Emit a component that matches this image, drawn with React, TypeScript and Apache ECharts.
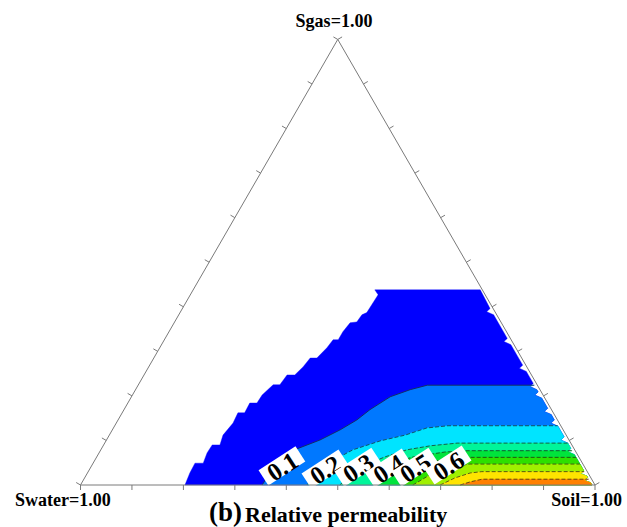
import React, { useEffect, useRef } from "react";
import * as echarts from "echarts";

// Ternary points are [Soil, Sgas]; Swater = 1 - Soil - Sgas
const vertices = [[0, 0], [1, 0], [0, 1]]; // Swater, Soil, Sgas corners
const tickValues = [0, 0.1, 0.2, 0.3, 0.4, 0.5, 0.6, 0.7, 0.8, 0.9, 1.0];

const bandColors = ["#0000ff", "#0078ff", "#00e4ff", "#00f59a", "#00e43c", "#2ee000", "#a0f000", "#ffe400", "#ff8000"];
const contourLevels = ["0.1", "0.2", "0.3", "0.4", "0.5", "0.6", "0.7", "0.8"];

// outer limit of the data region, left side (top -> bottom)
const leftBoundary = [
  [0.353, 0.438], [0.365, 0.427], [0.363, 0.387], [0.356, 0.382], [0.354, 0.366], [0.342, 0.364],
  [0.338, 0.344], [0.338, 0.326], [0.328, 0.326], [0.325, 0.308], [0.317, 0.285], [0.304, 0.285],
  [0.300, 0.265], [0.293, 0.247], [0.278, 0.247], [0.275, 0.225], [0.262, 0.225], [0.252, 0.202],
  [0.251, 0.184], [0.237, 0.184], [0.238, 0.162], [0.225, 0.162], [0.227, 0.139], [0.221, 0.112],
  [0.226, 0.090], [0.211, 0.090], [0.210, 0.072], [0.214, 0.049], [0.198, 0.049], [0.199, 0.027],
  [0.203, 0.0],
];
// right side of the data region (bottom -> top)
const rightBoundary = [
  [0.994, 0.0], [0.989, 0.005], [0.973, 0.011], [0.977, 0.017],
  [0.974, 0.020], [0.958, 0.026], [0.962, 0.032],
  [0.926, 0.068], [0.909, 0.075], [0.912, 0.082],
  [0.900, 0.094], [0.883, 0.101], [0.886, 0.108],
  [0.862, 0.132], [0.845, 0.139], [0.848, 0.146],
  [0.836, 0.158], [0.819, 0.165], [0.822, 0.172],
  [0.799, 0.195], [0.782, 0.202], [0.785, 0.209],
  [0.780, 0.214], [0.763, 0.221], [0.766, 0.228],
  [0.739, 0.255], [0.722, 0.262], [0.725, 0.269],
  [0.679, 0.315], [0.662, 0.322], [0.665, 0.329],
  [0.612, 0.382], [0.595, 0.389], [0.598, 0.396],
  [0.558, 0.438],
];

// contour lines of relative permeability (bottom edge -> right side)
const contour01 = [[0.353, 0], [0.355, 0.034], [0.380, 0.081], [0.415, 0.101], [0.443, 0.124], [0.464, 0.146], [0.478, 0.169], [0.503, 0.198], [0.534, 0.214], [0.562, 0.224], [0.770, 0.224]];
const contour02 = [[0.440, 0], [0.449, 0.034], [0.470, 0.061], [0.490, 0.079], [0.533, 0.099], [0.575, 0.112], [0.609, 0.128], [0.648, 0.133], [0.861, 0.133]];
const contour03 = [[0.504, 0], [0.513, 0.023], [0.531, 0.045], [0.560, 0.063], [0.595, 0.079], [0.636, 0.088], [0.685, 0.094], [0.900, 0.094]];
const contour04 = [[0.572, 0], [0.580, 0.025], [0.589, 0.052], [0.615, 0.063], [0.671, 0.074], [0.713, 0.077], [0.917, 0.077]];
const contour05 = [[0.625, 0], [0.629, 0.023], [0.638, 0.043], [0.671, 0.056], [0.707, 0.062], [0.932, 0.062]];
const contour06 = [[0.646, 0], [0.668, 0.023], [0.698, 0.040], [0.733, 0.047], [0.947, 0.047]];
const contour07 = [[0.699, 0], [0.720, 0.016], [0.744, 0.027], [0.765, 0.030], [0.964, 0.030]];
const contour08 = [[0.738, 0], [0.754, 0.007], [0.774, 0.013], [0.981, 0.013]];
const contours = [contour01, contour02, contour03, contour04, contour05, contour06, contour07, contour08];

const labelTexts = ["0.1", "0.2", "0.3", "0.4", "0.5", "0.6"];
const labelPositions = [[0.370, 0.043], [0.457, 0.036], [0.519, 0.040], [0.579, 0.038], [0.630, 0.040], [0.692, 0.045]];

const SQ = Math.sqrt(3) / 2;
const toXY = (p: number[]) => [p[0] + p[1] / 2, p[1] * SQ];

const outline = [...leftBoundary, ...rightBoundary];
const bandPolys = [
  outline,
  ...contours.map((c) => {
    const endSg = c[c.length - 1][1];
    const rb = rightBoundary.filter((p) => p[1] < endSg).reverse();
    return [...c, ...rb];
  }),
];

const FONT = '"Liberation Serif", "Times New Roman", serif';

const option: any = {
  animation: false,
  grid: { left: 80.5, top: 485 - 514.5 * SQ, width: 514.5, height: 514.5 * SQ },
  xAxis: { type: "value", min: 0, max: 1, show: false },
  yAxis: { type: "value", min: 0, max: SQ, show: false },
  series: [
    {
      type: "custom",
      silent: true,
      data: bandPolys.map((_, i) => [0.5, 0.1 + i * 0.01]),
      renderItem: (params: any, api: any) => {
        const poly = bandPolys[params.dataIndex];
        const color = bandColors[params.dataIndex];
        return {
          type: "polygon",
          shape: { points: poly.map((p) => api.coord(toXY(p))) },
          style: { fill: color, stroke: color, lineWidth: 0.4 },
        };
      },
    },
    {
      type: "custom",
      silent: true,
      data: contours.map((_, i) => [0.5, 0.1 + i * 0.01]),
      renderItem: (params: any, api: any) => {
        const c = contours[params.dataIndex];
        return {
          type: "polyline",
          shape: { points: c.map((p) => api.coord(toXY(p))) },
          style: { fill: null, stroke: "#1a1a1a", lineWidth: 0.8, lineDash: params.dataIndex === 0 ? null : [4, 2], opacity: 0.85 },
        };
      },
    },
    {
      type: "custom",
      silent: true,
      data: labelPositions.map((p) => toXY(p)),
      renderItem: (params: any, api: any) => {
        const pos = api.coord(toXY(labelPositions[params.dataIndex]));
        return {
          type: "group",
          x: pos[0],
          y: pos[1],
          rotation: (33 * Math.PI) / 180,
          children: [
            { type: "rect", shape: { x: -22, y: -9, width: 44, height: 18 }, style: { fill: "#ffffff" } },
            {
              type: "text",
              style: {
                text: labelTexts[params.dataIndex],
                x: 0,
                y: 1,
                align: "center",
                verticalAlign: "middle",
                fontSize: 25,
                fontWeight: "bold",
                fontFamily: FONT,
                fill: "#000",
              },
            },
          ],
        };
      },
    },
    {
      type: "custom",
      silent: true,
      data: [[0.5, 0.3]],
      renderItem: (params: any, api: any) => ({
        type: "polygon",
        shape: { points: vertices.map((p) => api.coord(toXY(p))) },
        style: { fill: null, stroke: "#7a7a7a", lineWidth: 1 },
      }),
    },
    {
      type: "custom",
      silent: true,
      data: tickValues.map((t) => [t, 0]),
      renderItem: (params: any, api: any) => {
        const t = tickValues[params.dataIndex];
        const L = 5;
        const b = api.coord(toXY([t, 0]));
        const l = api.coord(toXY([0, t]));
        const r = api.coord(toXY([1 - t, t]));
        const st = { stroke: "#7a7a7a", lineWidth: 1 };
        return {
          type: "group",
          children: [
            { type: "line", shape: { x1: b[0], y1: b[1], x2: b[0], y2: b[1] + L }, style: st },
            { type: "line", shape: { x1: l[0], y1: l[1], x2: l[0] - L * 0.866, y2: l[1] - L * 0.5 }, style: st },
            { type: "line", shape: { x1: r[0], y1: r[1], x2: r[0] + L * 0.866, y2: r[1] - L * 0.5 }, style: st },
          ],
        };
      },
    },
  ],
  graphic: [
    { type: "text", x: 334, y: 21, style: { text: "Sgas=1.00", align: "center", verticalAlign: "middle", fontSize: 18, fontWeight: "bold", fontFamily: FONT, fill: "#000" } },
    { type: "text", x: 15, y: 500, style: { text: "Swater=1.00", align: "left", verticalAlign: "middle", fontSize: 18, fontWeight: "bold", fontFamily: FONT, fill: "#000" } },
    { type: "text", x: 622, y: 500, style: { text: "Soil=1.00", align: "right", verticalAlign: "middle", fontSize: 18, fontWeight: "bold", fontFamily: FONT, fill: "#000" } },
    { type: "text", x: 242, y: 512, style: { text: "(b)", align: "right", verticalAlign: "middle", fontSize: 27, fontWeight: "bold", fontFamily: FONT, fill: "#000" } },
    { type: "text", x: 245, y: 514, style: { text: "Relative permeability", align: "left", verticalAlign: "middle", fontSize: 22, fontWeight: "bold", fontFamily: FONT, fill: "#000" } },
  ],
};

export default function App() {
  const ref = useRef<HTMLDivElement>(null);
  useEffect(() => {
    const chart = echarts.init(ref.current!, null, { renderer: "svg" });
    chart.setOption(option);
    return () => chart.dispose();
  }, []);
  return (
    <div
      ref={ref}
      style={{ position: "absolute", left: 0, top: 0, width: 627, height: 527, background: "#ffffff" }}
    />
  );
}
